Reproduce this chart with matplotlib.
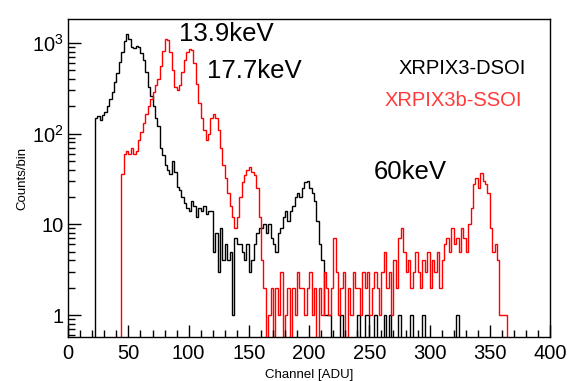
import numpy as np
import matplotlib
matplotlib.use('Agg')
import matplotlib.pyplot as plt
from matplotlib.ticker import MultipleLocator, LogLocator, NullFormatter

plt.rcParams['font.family'] = ['Liberation Sans', 'DejaVu Sans']
plt.rcParams['mathtext.default'] = 'regular'

# Histogram binning (channels, 2 ADU per bin)
bin_width = 2
channel_max = 400

# XRPIX3-DSOI (black), counts per bin starting at channel 22
dsoi_start = 22
dsoi_counts = [
    150, 155, 140, 160, 175, 200, 240, 290, 370, 470,
    610, 800, 1050, 1240, 1100, 900, 870, 930, 900, 780,
    650, 480, 330, 260, 200, 150, 120, 70, 58, 45,
    40, 36, 50, 38, 26, 24, 20, 17, 15, 14,
    18, 16, 12, 15, 14, 16, 13, 14, 14, 5,
    8, 3, 9, 4, 6, 4, 5, 1, 7, 6,
    6, 5, 4, 6, 3, 4, 6, 8, 9, 9,
    10, 8, 10, 7, 6, 5, 8, 9, 12, 14,
    11, 14, 16, 20, 22, 20, 25, 29, 30, 25,
    22, 18, 11, 6, 4, 1, 1, 1, 0, 0,
    0, 0, 1, 0, 0, 0, 0, 0, 0, 1,
    0, 0, 1, 1, 0, 0, 1, 0, 0, 0,
    1, 0, 1, 0, 0, 0, 1, 0, 0, 0,
    0, 1, 0, 0, 0, 0, 1, 0, 0, 0,
    0, 0, 0, 0, 0, 0, 0, 0, 0, 0,
    1,
]

# XRPIX3b-SSOI (red), counts per bin starting at channel 44
ssoi_start = 44
ssoi_counts = [
    36, 60, 65, 60, 70, 60, 65, 85, 105, 130,
    165, 200, 240, 290, 340, 400, 560, 820, 1100, 1080,
    800, 500, 330, 300, 340, 480, 650, 800, 850, 830,
    600, 350, 220, 150, 110, 85, 100, 150, 165, 150,
    110, 70, 45, 32, 22, 16, 12, 9, 12, 20,
    29, 35, 40, 43, 38, 35, 25, 12, 4, 2,
    0, 1, 2, 0, 2, 1, 3, 0, 1, 2,
    0, 2, 1, 3, 2, 2, 1, 2, 3, 1,
    2, 0, 2, 1, 3, 2, 1, 2, 7, 3,
    1, 2, 3, 0, 2, 1, 3, 2, 2, 1,
    3, 2, 3, 1, 2, 3, 2, 1, 3, 5,
    2, 3, 1, 4, 2, 7, 9, 5, 3, 4,
    2, 3, 5, 3, 2, 4, 3, 5, 2, 4,
    3, 5, 2, 4, 6, 7, 5, 9, 6, 7,
    5, 9, 7, 5, 10, 15, 28, 32, 25, 37,
    30, 28, 22, 9, 5, 6, 4, 1, 1, 1,
    0,
]

# Peak annotations (x in ADU, y in counts/bin)
peak_labels = ['13.9keV', '17.7keV', '60keV']
peak_x = [92, 115, 254]
peak_y = [1250, 490, 38]

# Legend texts
legend_labels = ['XRPIX3-DSOI', 'XRPIX3b-SSOI']
legend_colors = ['black', '#ff3b3b']
legend_x = [274, 263]
legend_y = [520, 232]

edges = np.arange(0, channel_max + bin_width, bin_width)


def full_hist(start, counts):
    h = np.zeros(len(edges) - 1)
    i0 = start // bin_width
    h[i0:i0 + len(counts)] = counts
    return h


fig = plt.figure(figsize=(5.73, 3.81), dpi=100)
ax = fig.add_axes([0.119, 0.115, 0.841, 0.835])

ax.set_yscale('log', nonpositive='clip')
ax.stairs(full_hist(dsoi_start, dsoi_counts), edges, baseline=None,
          color='black', lw=1.0)
ax.stairs(full_hist(ssoi_start, ssoi_counts), edges, baseline=None,
          color='#ff0000', lw=1.0)

ax.set_xlim(0, 400)
ax.set_ylim(0.57, 1830)

# ROOT-like ticks
ax.xaxis.set_major_locator(MultipleLocator(50))
ax.xaxis.set_minor_locator(MultipleLocator(10))
ax.set_yticks([1, 10, 100, 1000])
ax.set_yticklabels(['1', '10', '$10^{2}$', '$10^{3}$'])
ax.yaxis.set_minor_locator(LogLocator(base=10, subs=np.arange(2, 10)))
ax.yaxis.set_minor_formatter(NullFormatter())
ax.tick_params(which='both', direction='in', top=False, right=False,
               labelsize=14.5, width=1.0)
ax.tick_params(which='major', length=9)
ax.tick_params(which='minor', length=5)
ax.tick_params(axis='x', pad=5)
for s in ax.spines.values():
    s.set_linewidth(1.0)

ax.set_xlabel('Channel [ADU]', fontsize=9.5, labelpad=4)
ax.set_ylabel('Counts/bin', fontsize=9.5, labelpad=2)

for lab, x, y in zip(peak_labels, peak_x, peak_y):
    ax.text(x, y, lab, fontsize=18.5, va='center', ha='left')
for lab, c, x, y in zip(legend_labels, legend_colors, legend_x, legend_y):
    ax.text(x, y, lab, fontsize=14.5, color=c, va='center', ha='left')

fig.savefig('out.png', dpi=100)
